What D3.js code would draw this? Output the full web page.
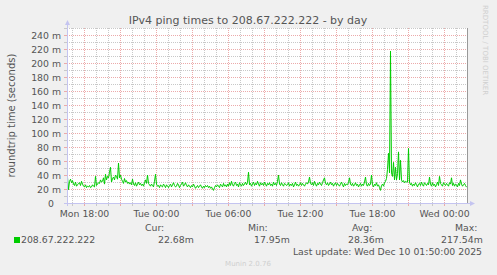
<!DOCTYPE html>
<html>
<head>
<meta charset="utf-8">
<script src="https://cdn.jsdelivr.net/npm/d3@7/dist/d3.min.js"></script>
<style>
  body { margin: 0; background: #f0f0f0; }
  svg { display: block; font-family: "DejaVu Sans", sans-serif; }
</style>
</head>
<body>
<svg id="chart" width="497" height="275"></svg>
<script>
var title = "IPv4 ping times to 208.67.222.222 - by day";
var yLabel = "roundtrip time (seconds)";
var watermark = "RRDTOOL / TOBI OETIKER";
var footer = "Munin 2.0.76";
var seriesName = "208.67.222.222";
var lastUpdate = "Last update: Wed Dec 10 01:50:00 2025";

var yTicks = [0, 20, 40, 60, 80, 100, 120, 140, 160, 180, 200, 220, 240];
var yTickLabels = ["0", "20 m", "40 m", "60 m", "80 m", "100 m", "120 m", "140 m",
                   "160 m", "180 m", "200 m", "220 m", "240 m"];
var statNames = ["Cur:", "Min:", "Avg:", "Max:"];
var statValues = ["22.68m", "17.95m", "28.36m", "217.54m"];

// one sample every 5 minutes, in ms, last one at Wed 01:50
var pingMs = [
  37, 19, 31, 34, 29, 32, 27, 25, 30, 24, 26, 28, 29, 25, 31, 27, 24, 23, 26, 22,
  24, 23, 25, 22, 23, 26, 24, 23, 38, 25, 27, 29, 28, 33, 30, 31, 36, 27, 41, 33,
  38, 36, 44, 51, 30, 35, 37, 33, 40, 38, 34, 57, 36, 40, 34, 31, 28, 35, 30, 32,
  28, 30, 27, 29, 26, 34, 27, 25, 29, 24, 27, 30, 26, 28, 25, 27, 24, 29, 33, 28,
  40, 28, 26, 24, 27, 25, 23, 31, 41, 27, 24, 25, 22, 26, 24, 23, 27, 25, 22, 26,
  24, 22, 25, 27, 23, 26, 29, 25, 23, 24, 28, 26, 22, 25, 27, 30, 24, 26, 29, 25,
  23, 26, 24, 22, 25, 23, 27, 24, 21, 23, 25, 22, 24, 26, 23, 21, 24, 22, 25, 23,
  25, 22, 24, 21, 23, 20, 18, 22, 25, 23, 26, 24, 22, 27, 25, 23, 28, 24, 26, 23,
  27, 24, 29, 25, 31, 26, 24, 28, 30, 25, 27, 23, 29, 26, 24, 28, 25, 27, 30, 26,
  29, 44, 26, 28, 24, 27, 30, 25, 28, 26, 31, 27, 24, 29, 26, 28, 25, 30, 27, 24,
  28, 26, 29, 25, 27, 24, 30, 26, 28, 25, 31, 40, 27, 25, 29, 26, 24, 28, 27, 25,
  26, 29, 24, 27, 25, 28, 23, 26, 30, 25, 27, 24, 26, 29, 25, 28, 26, 24, 27, 29,
  27, 30, 37, 28, 26, 29, 25, 31, 27, 24, 28, 26, 30, 27, 25, 29, 33, 36, 28, 26,
  29, 25, 27, 30, 26, 28, 24, 27, 29, 25, 28, 26, 24, 27, 30, 26, 23, 28, 25, 27,
  26, 29, 36, 27, 25, 28, 24, 26, 29, 25, 27, 23, 26, 28, 24, 27, 25, 30, 37, 26,
  24, 28, 25, 27, 40, 26, 23, 27, 25, 29, 24, 26, 22, 18, 25, 27, 24, 29, 31, 35,
  48, 71, 43, 217, 43, 38, 58, 33, 51, 33, 42, 73, 33, 61, 33, 30, 32, 29, 31, 30,
  30, 78, 30, 26, 28, 24, 27, 25, 29, 26, 23, 27, 28, 25, 30, 26, 24, 29, 27, 25,
  28, 26, 37, 27, 24, 29, 25, 27, 23, 26, 30, 25, 38, 28, 26, 24, 29, 27, 25, 28,
  26, 24, 29, 27, 36, 25, 28, 24, 27, 26, 23, 28, 25, 33, 27, 24, 26, 28, 25, 22.68
];

var step = 5 * 60 * 1000;
var lastTime = Date.UTC(2025, 11, 10, 1, 50);
var data = pingMs.map(function(v, i) {
  return { t: new Date(lastTime - (pingMs.length - 1 - i) * step), v: v };
});

var plotL = 67, plotR = 467, plotT = 28, plotB = 203;
var colors = {
  plot: "#ffffff",
  text: "#555555",
  minor: "#c8c8c8",
  major: "#ecaaaa",
  axis: "#c4c4f0",
  frame: "#999999",
  line: "#00cc00",
  faint: "#cfcfcf"
};

var svg = d3.select("#chart");

var x = d3.scaleUtc()
    .domain([new Date(lastTime - (pingMs.length - 1) * step), new Date(lastTime + step)])
    .range([plotL, plotR]);
var y = d3.scaleLinear().domain([0, 250]).range([plotB, plotT]);

svg.append("rect")
    .attr("x", plotL).attr("y", plotT)
    .attr("width", plotR - plotL).attr("height", plotB - plotT)
    .attr("fill", colors.plot);

// grid
var grid = svg.append("g").attr("shape-rendering", "crispEdges");
var hourTicks = x.ticks(d3.utcHour.every(1));
var minorX = hourTicks.filter(function(d) { return d.getUTCHours() % 3 !== 0; });
var majorX = hourTicks.filter(function(d) { return d.getUTCHours() % 3 === 0; });
var minorY = d3.range(10, 260, 20);
var majorY = yTicks.slice(1);

function vlines(ticks, color) {
  grid.selectAll(null).data(ticks).enter().append("line")
    .attr("x1", function(d) { return Math.round(x(d)) + 0.5; })
    .attr("x2", function(d) { return Math.round(x(d)) + 0.5; })
    .attr("y1", plotT).attr("y2", plotB)
    .attr("stroke", color).attr("stroke-dasharray", "1,1");
}
function hlines(ticks, color) {
  grid.selectAll(null).data(ticks).enter().append("line")
    .attr("x1", plotL).attr("x2", plotR)
    .attr("y1", function(d) { return Math.round(y(d)) + 0.5; })
    .attr("y2", function(d) { return Math.round(y(d)) + 0.5; })
    .attr("stroke", color).attr("stroke-dasharray", "1,1");
}
vlines(minorX, colors.minor);
hlines(minorY, colors.minor);
vlines(majorX, colors.major);
hlines(majorY, colors.major);

// tick marks outside the axes
grid.selectAll(null).data(hourTicks).enter().append("line")
  .attr("x1", function(d) { return Math.round(x(d)) + 0.5; })
  .attr("x2", function(d) { return Math.round(x(d)) + 0.5; })
  .attr("y1", plotB).attr("y2", plotB + 3)
  .attr("stroke", function(d) { return d.getUTCHours() % 3 === 0 ? colors.major : colors.minor; });
grid.selectAll(null).data(minorY.concat(yTicks)).enter().append("line")
  .attr("x1", plotL - 3).attr("x2", plotL)
  .attr("y1", function(d) { return Math.round(y(d)) + 0.5; })
  .attr("y2", function(d) { return Math.round(y(d)) + 0.5; })
  .attr("stroke", function(d) { return d % 20 === 0 ? colors.major : colors.minor; });

// frame on the right
svg.append("line")
    .attr("x1", plotR + 0.5).attr("x2", plotR + 0.5)
    .attr("y1", plotT).attr("y2", plotB)
    .attr("stroke", colors.frame);

// data line
var line = d3.line()
    .x(function(d) { return x(d.t) + 0.5; })
    .y(function(d) { return y(d.v); });
svg.append("path")
    .datum(data)
    .attr("d", line)
    .attr("fill", "none")
    .attr("stroke", colors.line)
    .attr("stroke-width", 1);

// axes with arrows
svg.append("line")
    .attr("x1", plotL + 0.5).attr("x2", plotL + 0.5)
    .attr("y1", plotB + 3).attr("y2", plotT - 4)
    .attr("stroke", colors.axis);
svg.append("path")
    .attr("d", "M" + (plotL - 2) + "," + (plotT - 3) + "L" + (plotL + 3) + "," + (plotT - 3) + "L" + (plotL + 0.5) + "," + (plotT - 8) + "Z")
    .attr("fill", colors.axis);
svg.append("line")
    .attr("x1", plotL - 3).attr("x2", plotR + 4)
    .attr("y1", plotB + 0.5).attr("y2", plotB + 0.5)
    .attr("stroke", colors.axis);
svg.append("path")
    .attr("d", "M" + (plotR + 3) + "," + (plotB - 2) + "L" + (plotR + 3) + "," + (plotB + 3) + "L" + (plotR + 8) + "," + (plotB + 0.5) + "Z")
    .attr("fill", colors.axis);

// axis labels
var fs = "9.33px";
var xAxis = d3.axisBottom(x)
    .ticks(d3.utcHour.every(6))
    .tickFormat(d3.utcFormat("%a %H:%M"))
    .tickSize(0)
    .tickPadding(0);
var gx = svg.append("g").attr("transform", "translate(0," + plotB + ")").call(xAxis);
gx.select(".domain").remove();
gx.selectAll("text")
    .attr("y", 14).attr("dy", null)
    .attr("fill", colors.text)
    .style("font-size", fs)
    .style("font-family", "DejaVu Sans");

var yAxis = d3.axisLeft(y)
    .tickValues(yTicks)
    .tickFormat(function(d, i) { return yTickLabels[i]; })
    .tickSize(0)
    .tickPadding(0);
var gy = svg.append("g").attr("transform", "translate(" + (plotL - 6) + ",0)").call(yAxis);
gy.select(".domain").remove();
gy.selectAll("text")
    .attr("dy", "0.35em")
    .attr("x", function(d) { return d === 0 ? -7 : 0; })
    .attr("fill", colors.text)
    .style("font-size", fs)
    .style("font-family", "DejaVu Sans");

// titles
svg.append("text")
    .attr("x", 248).attr("y", 24)
    .attr("text-anchor", "middle")
    .attr("fill", colors.text)
    .style("font-size", "11px")
    .text(title);
svg.append("text")
    .attr("transform", "translate(15," + ((plotT + plotB) / 2) + ") rotate(-90)")
    .attr("text-anchor", "middle")
    .attr("fill", colors.text)
    .style("font-size", "10px")
    .text(yLabel);
svg.append("text")
    .attr("transform", "translate(483,5) rotate(90)")
    .attr("fill", colors.faint)
    .style("font-size", "7px")
    .text(watermark);

// legend
svg.append("rect")
    .attr("x", 14).attr("y", 237).attr("width", 6).attr("height", 6)
    .attr("fill", colors.line);
svg.append("text")
    .attr("x", 21).attr("y", 243)
    .attr("fill", colors.text).style("font-size", fs)
    .text(seriesName);
var nameX = [145, 248, 352, 455];
var valueX = [158, 254, 348, 441];
statNames.forEach(function(s, i) {
  svg.append("text")
      .attr("x", nameX[i]).attr("y", 231)
      .attr("fill", colors.text).style("font-size", fs)
      .text(s);
  svg.append("text")
      .attr("x", valueX[i]).attr("y", 243)
      .attr("fill", colors.text).style("font-size", fs)
      .text(statValues[i]);
});
svg.append("text")
    .attr("x", 482).attr("y", 254.5)
    .attr("text-anchor", "end")
    .attr("fill", colors.text).style("font-size", fs)
    .text(lastUpdate);
svg.append("text")
    .attr("x", 248).attr("y", 265.5)
    .attr("text-anchor", "middle")
    .attr("fill", colors.faint).style("font-size", "7px")
    .text(footer);
</script>
</body>
</html>
